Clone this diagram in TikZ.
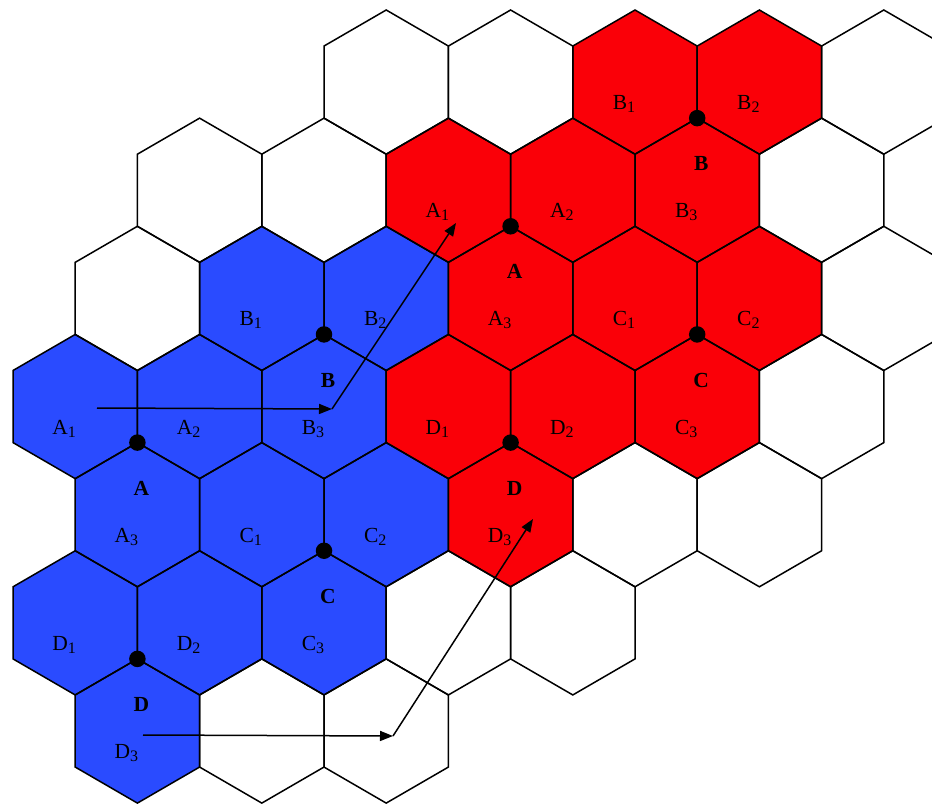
\documentclass[tikz,border=0pt]{standalone}
\usepackage{fontspec}
\setmainfont{Liberation Serif}
\usetikzlibrary{arrows.meta}
\definecolor{hexblue}{RGB}{42,75,255}
\definecolor{hexred}{RGB}{250,0,8}
\newcommand{\hexsub}[1]{\raisebox{-3pt}{\fontsize{16}{16}\selectfont #1}}
\tikzset{
  hexedge/.style={draw=black,line width=1.5pt,line join=miter},
  cellname/.style={anchor=base,inner sep=0pt,font=\fontsize{21.5}{25}\selectfont},
  centname/.style={anchor=base,inner sep=0pt,font=\fontsize{21.5}{25}\selectfont\bfseries},
  vdot/.style={circle,fill=black,inner sep=0pt,minimum size=16.5pt},
  movearrow/.style={draw=black,line width=1.5pt,-{Triangle[length=13pt,width=10pt]}}
}
\def\hexlist{6/0/white,8/0/white,10/0/hexred,12/0/hexred,14/0/white,
3/1/white,5/1/white,7/1/hexred,9/1/hexred,11/1/hexred,13/1/white,
2/2/white,4/2/hexblue,6/2/hexblue,8/2/hexred,10/2/hexred,12/2/hexred,14/2/white,
1/3/hexblue,3/3/hexblue,5/3/hexblue,7/3/hexred,9/3/hexred,11/3/hexred,13/3/white,
2/4/hexblue,4/4/hexblue,6/4/hexblue,8/4/hexred,10/4/white,12/4/white,
1/5/hexblue,3/5/hexblue,5/5/hexblue,7/5/white,9/5/white,
2/6/hexblue,4/6/white,6/6/white}
\def\hexpath#1#2{(#1,#2) ++(62.2,-36.05) -- ++(-62.2,-36.05) -- ++(-62.2,36.05) -- ++(0,72.1) -- ++(62.2,36.05) -- ++(62.2,-36.05) -- cycle}
\begin{document}
\begin{tikzpicture}[x=1pt,y=-1pt]
\useasboundingbox (0,0) rectangle (932,805);
\fill[white] (0,0) rectangle (932,805);
% fills
\foreach \m/\r/\c in \hexlist {
  \pgfmathsetmacro\cx{13+\m*62.2}
  \pgfmathsetmacro\cy{82.1+\r*108.15}
  \fill[\c] \hexpath{\cx}{\cy};
}
% edges
\foreach \m/\r/\c in \hexlist {
  \pgfmathsetmacro\cx{13+\m*62.2}
  \pgfmathsetmacro\cy{82.1+\r*108.15}
  \path[hexedge] \hexpath{\cx}{\cy};
}
% cell names
\foreach \m/\r/\L/\s [count=\i] in {1/3/A/1,3/3/A/2,5/3/B/3,4/2/B/1,6/2/B/2,2/4/A/3,4/4/C/1,6/4/C/2,1/5/D/1,3/5/D/2,5/5/C/3,2/6/D/3,
10/0/B/1,12/0/B/2,7/1/A/1,9/1/A/2,11/1/B/3,8/2/A/3,10/2/C/1,12/2/C/2,7/3/D/1,9/3/D/2,11/3/C/3,8/4/D/3} {
  \pgfmathsetmacro\cx{13+\m*62.2-11}
  \pgfmathsetmacro\cy{82.1+\r*108.15+27.5}
  \node[cellname] (cell\i) at (\cx,\cy) {\L\hexsub{\s}};
}
% cluster centres
\foreach \m/\r/\L [count=\i] in {2/4/A,5/3/B,5/5/C,2/6/D,8/2/A,11/1/B,11/3/C,8/4/D} {
  \pgfmathsetmacro\cx{13+\m*62.2}
  \pgfmathsetmacro\cy{82.1+\r*108.15}
  \node[vdot] (dot\i) at (\cx,\cy-72.1) {};
  \node[centname] (cent\i) at (\cx+4,\cy-19.5) {\L};
}
% shift arrows
\coordinate (p1) at (97,408);
\coordinate (p2) at (332,409);
\coordinate (p3) at (456,223);
\coordinate (q1) at (143,735);
\coordinate (q2) at (393,736);
\coordinate (q3) at (533,519);
\draw[movearrow] (p1) -- (p2);
\draw[movearrow] (p2) -- (p3);
\draw[movearrow] (q1) -- (q2);
\draw[movearrow] (q2) -- (q3);
\end{tikzpicture}
\end{document}
